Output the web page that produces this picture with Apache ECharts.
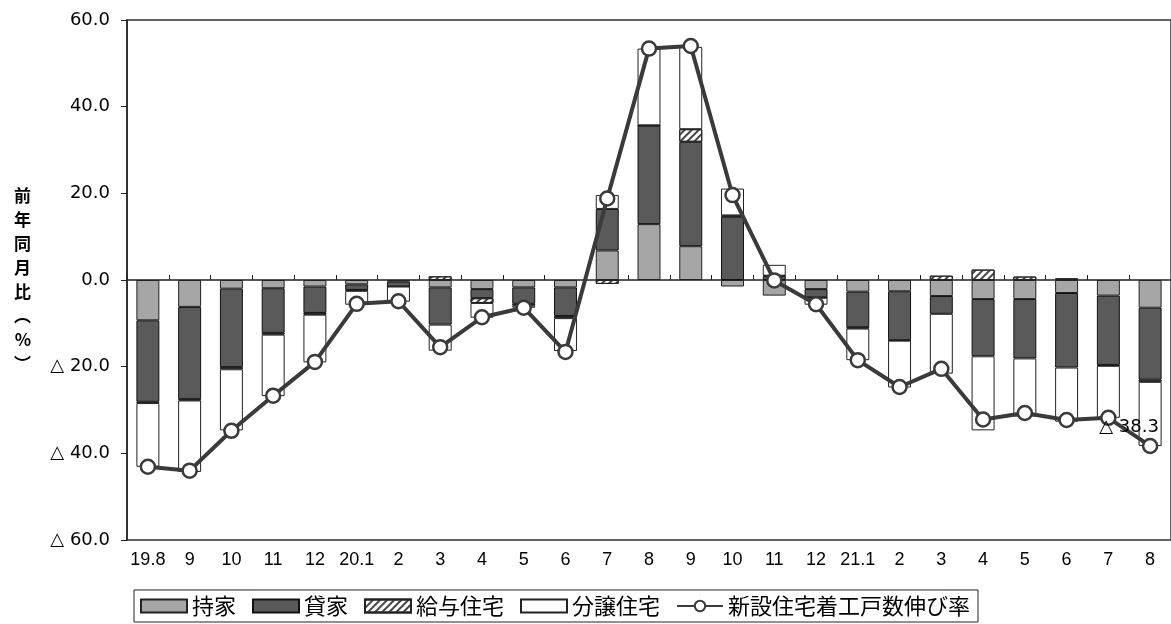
<!DOCTYPE html>
<html><head><meta charset="utf-8">
<script src="https://cdn.jsdelivr.net/npm/echarts@6/dist/echarts.min.js"></script>
<style>html,body{margin:0;padding:0;background:#fff}#c{width:1171px;height:624px}</style>
</head><body><div id="c"></div>
<script>
const categories = ['19.8','9','10','11','12','20.1','2','3','4','5','6','7','8','9','10','11','12','21.1','2','3','4','5','6','7','8'];
const mochiie   = [-9.3,-6.2,-2.0,-1.9,-1.5,-1.0,-0.4,-1.7,-2.1,-1.7,-1.7, 6.8,12.9, 7.8,-1.5,-3.6,-2.1,-2.7,-2.6,-3.7,-4.4,-4.4,-3.0,-3.6,-6.4];
const kashiya   = [-18.8,-21.3,-18.1,-10.3,-6.1,-1.3,-1.1,-8.6,-2.1,-3.8,-6.6, 9.6,22.7,24.1,14.6, 0.9,-1.9,-8.2,-11.3,-4.1,-13.2,-13.7,-17.2,-16.0,-16.6];
const kyuyo     = [-0.3,-0.3,-0.5,-0.4,-0.4,-0.2, 0.0, 0.85,-1.1,-0.4,-0.5,-0.9, 0.1, 2.9, 0.3, 0.1,-0.1,-0.3,-0.1, 1.0, 2.4, 0.8, 0.4,-0.2,-0.5];
const bunjo     = [-14.7,-16.5,-14.1,-14.2,-11.0,-3.2,-3.5,-6.0,-3.4,-0.5,-7.6, 3.2,17.7,19.0, 6.2, 2.5,-1.6,-7.3,-10.8,-13.8,-17.1,-13.4,-12.5,-12.0,-14.8];
const total     = [-43.1,-44.0,-34.8,-26.7,-18.9,-5.5,-4.9,-15.5,-8.6,-6.4,-16.6,18.8,53.4,54.0,19.6,-0.1,-5.6,-18.5,-24.7,-20.5,-32.2,-30.7,-32.3,-31.8,-38.3];
const yTicks = {min:-60, max:60, interval:20};
const seriesNames = ['持家','貸家','給与住宅','分譲住宅','新設住宅着工戸数伸び率'];

const fmt = v => v < 0 ? '△ ' + Math.abs(v).toFixed(1) : v.toFixed(1);
const numFont = '"DejaVu Sans", "Liberation Sans", sans-serif';
const xFont = '"Liberation Sans", Arial, sans-serif';
const jpFont = '"Noto Sans CJK JP", sans-serif';
const chart = echarts.init(document.getElementById('c'), null, {renderer:'canvas'});
const barCommon = {type:'bar', stack:'a', barWidth:'55%', xAxisIndex:0};
chart.setOption({
  animation:false,
  grid:{left:127, right:-8, top:20, bottom:84, show:true, borderColor:'#333', borderWidth:1.5, backgroundColor:'transparent'},
  legend:{
    left:134, bottom:2, borderColor:'#222', borderWidth:1, padding:[5,8,5,6], itemGap:16,
    itemWidth:46, itemHeight:13,
    textStyle:{fontFamily:jpFont, fontSize:22, color:'#000'},
    data:[
      {name:seriesNames[0], icon:'rect'},
      {name:seriesNames[1], icon:'rect'},
      {name:seriesNames[2], icon:'rect'},
      {name:seriesNames[3], icon:'rect'},
      {name:seriesNames[4]}
    ]
  },
  xAxis:[
    {type:'category', data:categories, position:'bottom', axisLine:{show:false, onZero:false}, axisTick:{show:false},
     axisLabel:{interval:0, margin:11, fontFamily:xFont, fontSize:18, color:'#000'}},
    {type:'category', data:categories, position:'bottom', axisLine:{show:true, onZero:true, lineStyle:{color:'#222', width:1.5}},
     axisTick:{show:true, inside:true, interval:0, length:5, lineStyle:{color:'#222'}}, axisLabel:{show:false}}
  ],
  yAxis:{type:'value', min:yTicks.min, max:yTicks.max, interval:yTicks.interval,
    axisLine:{show:true, lineStyle:{color:'#222', width:1.5}},
    axisTick:{show:true, length:6, lineStyle:{color:'#222'}},
    splitLine:{show:false},
    axisLabel:{formatter:fmt, fontFamily:numFont, fontSize:18, color:'#000', margin:17},
    name:'前\n年\n同\n月\n比\n︵\n%\n︶', nameLocation:'middle', nameGap:96, nameRotate:0,
    nameTextStyle:{fontFamily:jpFont, fontSize:17, fontWeight:'bold', color:'#000', lineHeight:24}
  },
  series:[
    Object.assign({name:seriesNames[0], data:mochiie, itemStyle:{color:'#a6a6a6', borderColor:'#222', borderWidth:1}}, barCommon),
    Object.assign({name:seriesNames[1], data:kashiya, itemStyle:{color:'#5a5a5a', borderColor:'#111', borderWidth:1}}, barCommon),
    Object.assign({name:seriesNames[2], data:kyuyo, itemStyle:{color:'#ffffff', borderColor:'#222', borderWidth:1,
      decal:{symbol:'rect', dashArrayX:[1,0], dashArrayY:[2,3], rotation:-Math.PI/4, color:'#444', symbolSize:1}}}, barCommon),
    Object.assign({name:seriesNames[3], data:bunjo, itemStyle:{color:'#ffffff', borderColor:'#222', borderWidth:1}}, barCommon),
    {name:seriesNames[4], type:'line', data:total, z:5, xAxisIndex:0,
     symbol:'circle', symbolSize:14,
     lineStyle:{color:'#3a3a3a', width:4},
     itemStyle:{color:'#ffffff', borderColor:'#3a3a3a', borderWidth:2.5},
     label:{show:true, formatter:p => p.dataIndex === total.length-1 ? fmt(p.value) : '',
       position:'top', offset:[-21,4], fontFamily:numFont, fontSize:18, color:'#000'}}
  ]
});
</script></body></html>
